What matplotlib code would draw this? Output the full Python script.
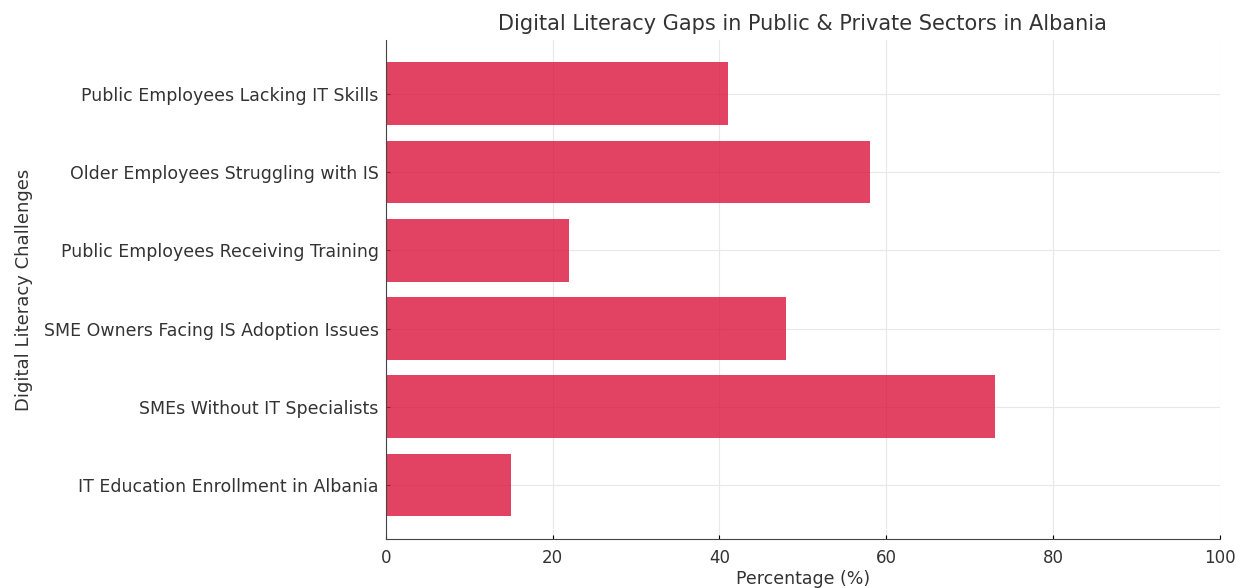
import numpy as np
import matplotlib
matplotlib.use("Agg")
import matplotlib.pyplot as plt

# Data
categories = [
    "IT Education Enrollment in Albania",
    "SMEs Without IT Specialists",
    "SME Owners Facing IS Adoption Issues",
    "Public Employees Receiving Training",
    "Older Employees Struggling with IS",
    "Public Employees Lacking IT Skills",
]
percentages = [15, 73, 48, 22, 58, 41]

fig = plt.figure(figsize=(12.4, 5.88), dpi=100)
ax = fig.add_axes([0.311, 0.0833, 0.673, 0.849])

ypos = np.arange(len(categories))
ax.barh(ypos, percentages, height=0.8, color="crimson", alpha=0.8, zorder=2)
ax.set_yticks(ypos)
ax.set_yticklabels(categories, fontsize=12.5, color="#333333")
ax.set_xlim(0, 100)
ax.tick_params(axis="x", labelsize=12, labelcolor="#333333", direction="in",
               length=3, pad=7)
ax.tick_params(axis="y", direction="in", length=3, pad=5)
ax.grid(True, color="#e8e8e8", linewidth=0.8, zorder=3)
for s in ["top", "right"]:
    ax.spines[s].set_visible(False)
for s in ["left", "bottom"]:
    ax.spines[s].set_color("#444444")

ax.set_xlabel("Percentage (%)", fontsize=12.5, color="#333333", labelpad=2)
ax.set_ylabel("Digital Literacy Challenges", fontsize=13, color="#333333",
              labelpad=8)
ax.set_title("Digital Literacy Gaps in Public & Private Sectors in Albania",
             fontsize=15, color="#333333", pad=7)

fig.savefig("out.png", dpi=100)
